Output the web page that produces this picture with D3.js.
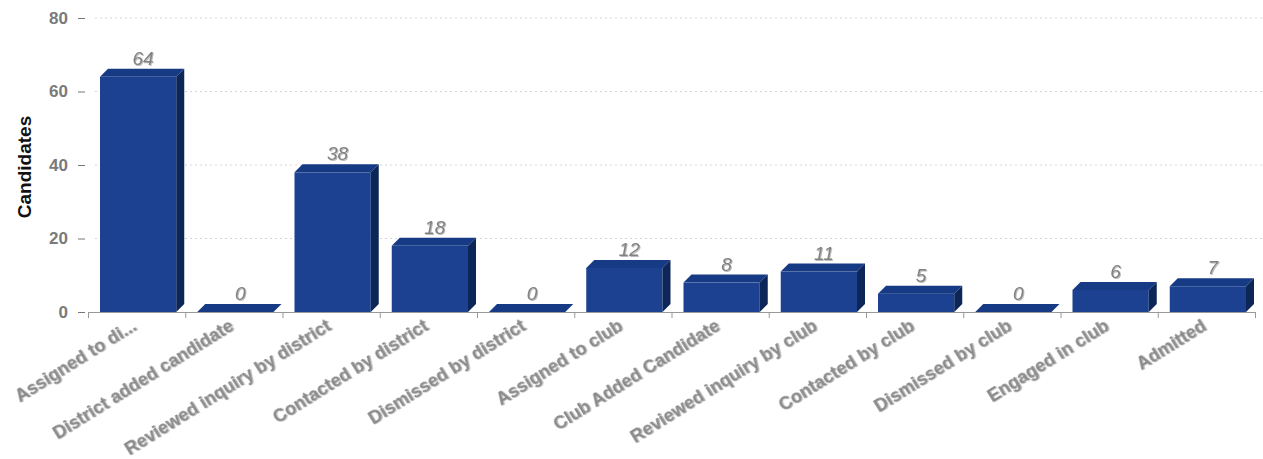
<!DOCTYPE html>
<html>
<head>
<meta charset="utf-8">
<script src="https://cdnjs.cloudflare.com/ajax/libs/d3/7.8.5/d3.min.js"></script>
<style>
  body { margin: 0; background: #fff; }
  #viz { font-family: 'Liberation Sans', Arial, sans-serif; }
  .xlabel { font-weight: bold; fill: #8a8a8a; font-size: 18px; }
  .vlabel { font-style: italic; fill: #828282; font-size: 19px; }
  .ytick { font-weight: bold; fill: #7a7a7a; font-size: 17px; }
</style>
</head>
<body>
<div id="viz"></div>
<script>
const categories = ['Assigned to di...', 'District added candidate', 'Reviewed inquiry by district',
    'Contacted by district', 'Dismissed by district', 'Assigned to club', 'Club Added Candidate',
    'Reviewed inquiry by club', 'Contacted by club', 'Dismissed by club', 'Engaged in club', 'Admitted'];
const candidates = [64, 0, 38, 18, 0, 12, 8, 11, 5, 0, 6, 7];
const yTicks = [0, 20, 40, 60, 80];
const yTitle = 'Candidates';

document.addEventListener('DOMContentLoaded', function() {
    generateViz();
});

function generateViz() {
    const width = 1263;
    const height = 459;
    const left = 88, right = 1255, top = 18, base = 312;
    const depth = 8;

    let svg = d3.select('#viz')
                .append('svg')
                .attr('width', width)
                .attr('height', height);

    let defs = svg.append('defs');
    let shadow = defs.append('filter').attr('id', 'shadow');
    shadow.append('feDropShadow')
          .attr('dx', 1).attr('dy', 1)
          .attr('stdDeviation', 0.7)
          .attr('flood-color', '#aaa')
          .attr('flood-opacity', 0.8);

    let xScale = d3.scaleBand().domain(categories).range([left, right]).padding(0);
    let yScale = d3.scaleLinear().domain([0, 80]).range([base, top]);

    // grid
    svg.append('g')
       .selectAll('line')
       .data(yTicks.filter(d => d > 0))
       .enter()
       .append('line')
       .attr('x1', left + 7)
       .attr('x2', width)
       .attr('y1', d => yScale(d))
       .attr('y2', d => yScale(d))
       .attr('stroke', '#d6d6d6')
       .attr('stroke-width', 1)
       .attr('stroke-dasharray', '2,3');

    // y axis (no domain line)
    let yAxis = d3.axisLeft(yScale).tickValues(yTicks).tickSize(7).tickPadding(10);
    let yg = svg.append('g')
       .attr('transform', 'translate(' + (left - 3) + ', 0)')
       .call(yAxis);
    yg.select('.domain').remove();
    yg.selectAll('.tick line').attr('stroke', '#777');
    yg.selectAll('.tick text')
      .attr('class', 'ytick')
      .attr('font-family', null)
      .attr('font-size', null);

    svg.append('text')
       .attr('transform', 'translate(31, ' + 167 + ') rotate(-90)')
       .attr('text-anchor', 'middle')
       .attr('font-weight', 'bold')
       .attr('font-size', '19px')
       .attr('fill', '#111')
       .text(yTitle);

    // bars
    const pad = 12;
    function x0(d) { return xScale(d) + pad; }
    function x1(d) { return xScale(d) + xScale.bandwidth() - depth - 1; }

    let bars = svg.append('g')
                  .selectAll('g')
                  .data(categories)
                  .enter()
                  .append('g');

    bars.append('rect')
        .attr('x', d => x0(d))
        .attr('y', (d, i) => yScale(candidates[i]))
        .attr('width', d => x1(d) - x0(d))
        .attr('height', (d, i) => base - yScale(candidates[i]))
        .attr('fill', '#1b4190');

    bars.append('path')
        .attr('d', (d, i) => {
            let y = yScale(candidates[i]);
            return 'M' + x0(d) + ',' + y + 'L' + (x0(d) + depth) + ',' + (y - depth) +
                   'L' + (x1(d) + depth) + ',' + (y - depth) + 'L' + x1(d) + ',' + y + 'Z';
        })
        .attr('fill', '#163a83');

    bars.append('path')
        .attr('d', (d, i) => {
            let y = yScale(candidates[i]);
            return 'M' + x1(d) + ',' + y + 'L' + (x1(d) + depth) + ',' + (y - depth) +
                   'L' + (x1(d) + depth) + ',' + (base - depth) + 'L' + x1(d) + ',' + base + 'Z';
        })
        .attr('fill', '#0c2658');

    bars.append('text')
        .attr('class', 'vlabel')
        .attr('text-anchor', 'middle')
        .attr('filter', 'url(#shadow)')
        .attr('x', d => (x0(d) + x1(d) + depth) / 2 + 1)
        .attr('y', (d, i) => yScale(candidates[i]) - depth - 4)
        .text((d, i) => candidates[i]);

    // x axis
    let xg = svg.append('g');
    xg.append('line')
      .attr('x1', left).attr('x2', right)
      .attr('y1', base + 0.5).attr('y2', base + 0.5)
      .attr('stroke', '#999');
    xg.selectAll('line.tk')
      .data(categories.concat(['end']))
      .enter()
      .append('line')
      .attr('class', 'tk')
      .attr('x1', (d, i) => (i < categories.length ? xScale(d) : right) + 0.5)
      .attr('x2', (d, i) => (i < categories.length ? xScale(d) : right) + 0.5)
      .attr('y1', base).attr('y2', base + 6)
      .attr('stroke', '#999');

    xg.selectAll('text')
      .data(categories)
      .enter()
      .append('text')
      .attr('class', 'xlabel')
      .attr('text-anchor', 'end')
      .attr('filter', 'url(#shadow)')
      .attr('transform', d => 'translate(' + (xScale(d) + xScale.bandwidth() / 2 + 1) + ', ' + (base + 17) + ') rotate(-32)')
      .text(d => d);
}
</script>
</body>
</html>
